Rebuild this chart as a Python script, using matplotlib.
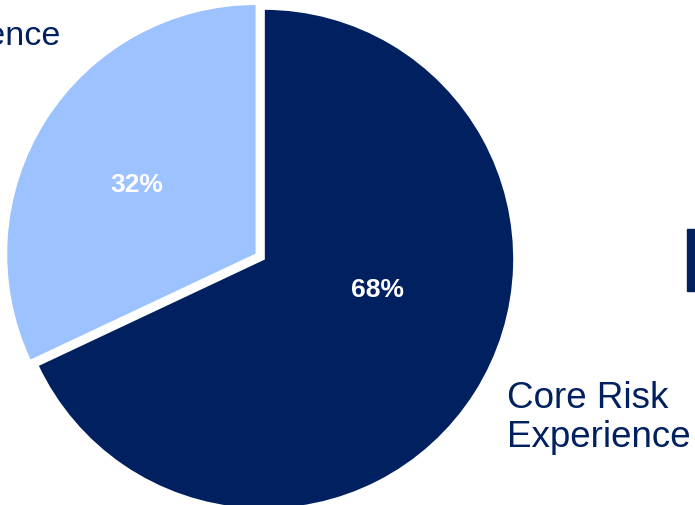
import matplotlib.pyplot as plt
from matplotlib.patches import Rectangle

plt.rcParams['font.family'] = ['Liberation Sans', 'DejaVu Sans']

# Share of experience by category
categories = ["Core Risk\nExperience", "Other Risk\nExperience"]
shares = [68, 32]
colors = ["#002060", "#9CC2FF"]

W, H = 695, 506
fig = plt.figure(figsize=(W / 100, H / 100), dpi=100)
ax = fig.add_axes([0, 0, 1, 1])

cx, cy, R = 264, H - 260, 250
ax.pie(
    shares,
    colors=colors,
    startangle=90,
    counterclock=False,
    explode=[0, 9],  # data units (pixels here)
    center=(cx, cy),
    radius=R,
    wedgeprops=dict(edgecolor="white", linewidth=1.2),
    frame=True,
)
ax.set_xlim(0, W)
ax.set_ylim(0, H)
ax.set_aspect("equal")
ax.axis("off")

# Percentage labels inside the slices
ax.text(377, H - 290, f"{shares[0]}%", color="white", fontsize=19,
        fontweight="bold", ha="center", va="center")
ax.text(137, H - 185, f"{shares[1]}%", color="white", fontsize=19,
        fontweight="bold", ha="center", va="center")

# Category labels
ax.text(507, H - 447, categories[0], color="#002060", fontsize=26.5,
        ha="left", va="baseline", linespacing=1.13)
ax.text(61, H - 45, categories[1].split("\n")[1], color="#002060",
        fontsize=24.5, ha="right", va="baseline")

# Dark marker at right edge
fig.patches.append(Rectangle((687 / W, 1 - 292 / H), 10 / W, 62 / H,
                             transform=fig.transFigure, color="#002060"))

fig.savefig("out.png", dpi=100)
